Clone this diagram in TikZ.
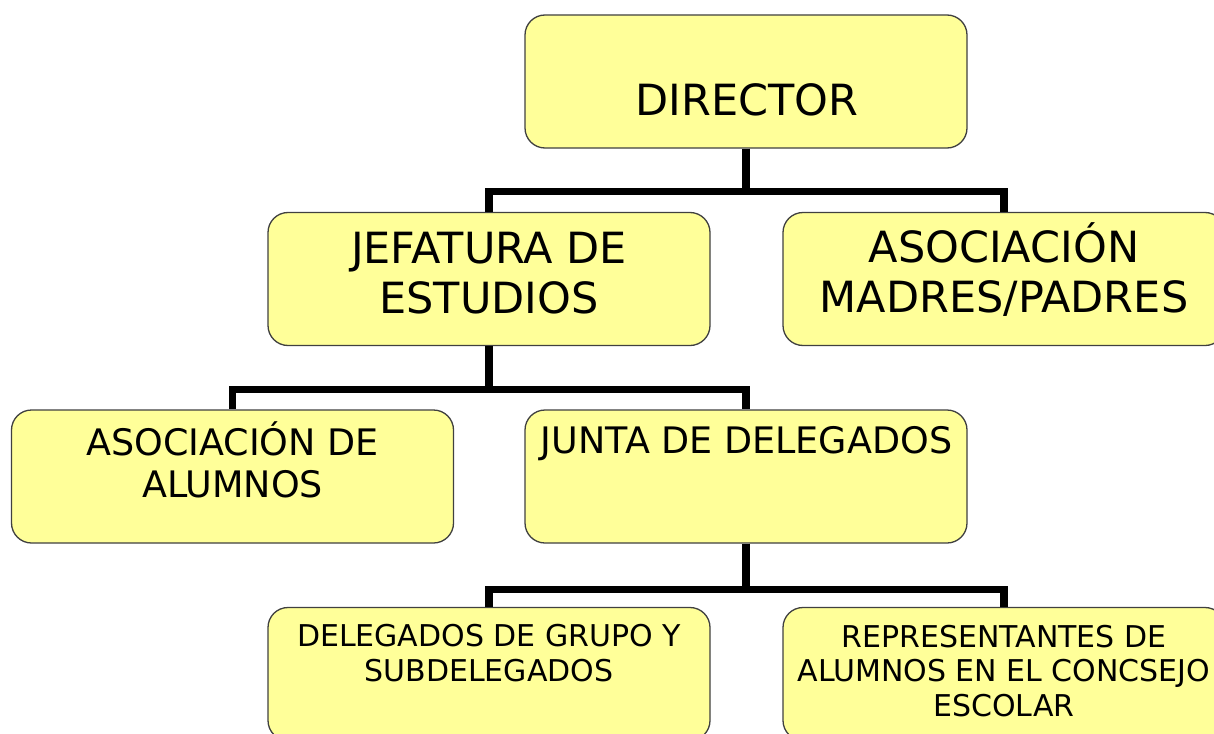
\documentclass[tikz,border=0pt]{standalone}
\usepackage{fontspec}
\setmainfont{DejaVu Sans}
\definecolor{boxfill}{RGB}{255,255,153}
\definecolor{boxline}{RGB}{64,64,64}
\begin{document}
\begin{tikzpicture}[x=1pt,y=-1pt,
  box/.style={draw=boxline, line width=1.3pt, fill=boxfill, rounded corners=20pt,
              minimum width=442pt, minimum height=133pt, inner sep=0pt},
  conn/.style={line width=7.5pt, draw=black},
  lbl/.style={align=center, inner sep=0pt, anchor=base},
  big/.style={font=\fontsize{43}{50}\selectfont},
  mid/.style={font=\fontsize{36.5}{42}\selectfont},
  small/.style={font=\fontsize{30}{34.5}\selectfont}]
\useasboundingbox (0,0) rectangle (1214,733);
\node[box] (dir) at (746,81.5) {};
\node[box] (jef) at (489,279) {};
\node[box] (amp) at (1004,279) {};
\node[box] (alu) at (232.5,476.5) {};
\node[box] (jun) at (746,476.5) {};
\node[box] (del) at (489,674) {};
\node[box] (rep) at (1004,674) {};
\draw[conn] (dir.south) -- ++(0,43) -| (jef.north);
\draw[conn] (dir.south) -- ++(0,43) -| (amp.north);
\draw[conn] (jef.south) -- ++(0,43.5) -| (alu.north);
\draw[conn] (jef.south) -- ++(0,43.5) -| (jun.north);
\draw[conn] (jun.south) -- ++(0,46) -| (del.north);
\draw[conn] (jun.south) -- ++(0,46) -| (rep.north);
% labels (base anchor = baseline of the last line)
\node[lbl, big] (tdir) at (747,115) {DIRECTOR};
\node[lbl, big] (tjef) at (489,313) {JEFATURA DE\\ESTUDIOS};
\node[lbl, big] (tamp) at (1004,312) {ASOCIACIÓN\\MADRES/PADRES};
\node[lbl, mid] (talu) at (232.5,497) {ASOCIACIÓN DE\\ALUMNOS};
\node[lbl, mid] (tjun) at (746.5,453) {JUNTA DE DELEGADOS};
\node[lbl, small] (tdel) at (489,681) {DELEGADOS DE GRUPO Y\\SUBDELEGADOS};
\node[lbl, small] (trep) at (1004,716) {REPRESENTANTES DE\\ALUMNOS EN EL CONCSEJO\\ESCOLAR};
\end{tikzpicture}
\end{document}
